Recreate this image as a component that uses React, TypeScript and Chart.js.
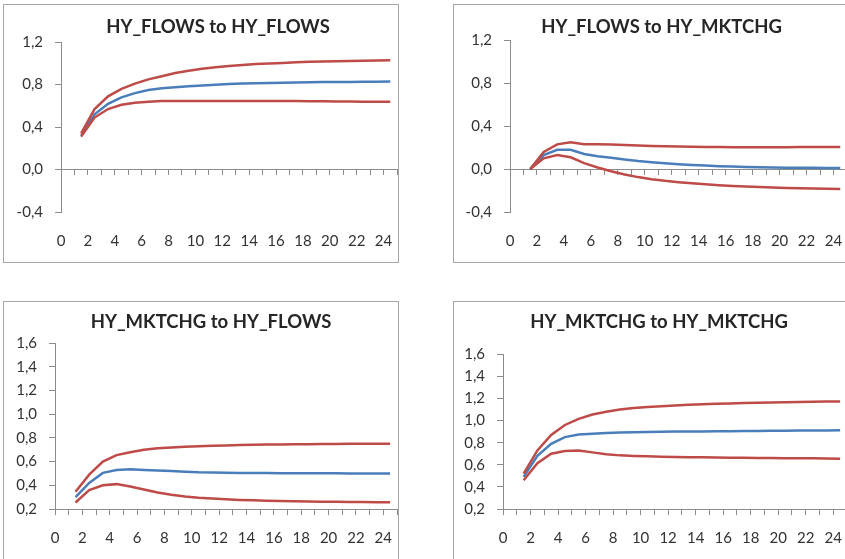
import React, { useEffect, useRef } from 'react';
import { Chart, registerables } from 'chart.js';

Chart.register(...registerables);

// Horizon (periods) at which responses are plotted
const horizon = [1.5, 2.5, 3.5, 4.5, 5.5, 6.5, 7.5, 8.5, 9.5, 10.5, 11.5, 12.5, 13.5, 14.5, 15.5, 16.5, 17.5, 18.5, 19.5, 20.5, 21.5, 22.5, 23.5, 24.5];

const xTickLabels = ['0', '2', '4', '6', '8', '10', '12', '14', '16', '18', '20', '22', '24'];

// HY_FLOWS to HY_FLOWS
const ff_resp = [0.32, 0.52, 0.62, 0.68, 0.72, 0.75, 0.765, 0.775, 0.785, 0.792, 0.8, 0.805, 0.81, 0.813, 0.816, 0.818, 0.82, 0.822, 0.824, 0.825, 0.826, 0.827, 0.828, 0.83];
const ff_upper = [0.34, 0.57, 0.69, 0.76, 0.81, 0.85, 0.88, 0.91, 0.93, 0.95, 0.965, 0.975, 0.985, 0.995, 1.0, 1.005, 1.01, 1.015, 1.018, 1.02, 1.023, 1.025, 1.027, 1.03];
const ff_lower = [0.31, 0.49, 0.57, 0.61, 0.63, 0.64, 0.645, 0.645, 0.645, 0.645, 0.645, 0.645, 0.645, 0.645, 0.645, 0.645, 0.645, 0.644, 0.643, 0.642, 0.641, 0.64, 0.64, 0.64];

// HY_FLOWS to HY_MKTCHG
const fm_resp = [0, 0.13, 0.18, 0.18, 0.14, 0.12, 0.105, 0.09, 0.075, 0.063, 0.053, 0.045, 0.038, 0.032, 0.027, 0.023, 0.02, 0.017, 0.015, 0.013, 0.012, 0.011, 0.01, 0.01];
const fm_upper = [0, 0.16, 0.23, 0.25, 0.23, 0.23, 0.228, 0.225, 0.22, 0.215, 0.212, 0.21, 0.208, 0.206, 0.205, 0.204, 0.203, 0.203, 0.203, 0.204, 0.205, 0.205, 0.205, 0.205];
const fm_lower = [0, 0.1, 0.13, 0.11, 0.055, 0.015, -0.02, -0.05, -0.075, -0.095, -0.11, -0.122, -0.133, -0.142, -0.15, -0.157, -0.163, -0.168, -0.172, -0.176, -0.179, -0.182, -0.184, -0.186];

// HY_MKTCHG to HY_FLOWS
const mf_resp = [0.3, 0.42, 0.505, 0.53, 0.535, 0.53, 0.525, 0.52, 0.515, 0.51, 0.508, 0.506, 0.505, 0.504, 0.503, 0.502, 0.502, 0.501, 0.501, 0.501, 0.5, 0.5, 0.5, 0.5];
const mf_upper = [0.345, 0.49, 0.6, 0.655, 0.68, 0.7, 0.712, 0.72, 0.725, 0.73, 0.734, 0.737, 0.74, 0.742, 0.744, 0.745, 0.746, 0.747, 0.748, 0.749, 0.75, 0.75, 0.75, 0.75];
const mf_lower = [0.255, 0.36, 0.4, 0.41, 0.39, 0.365, 0.34, 0.32, 0.305, 0.295, 0.288, 0.282, 0.277, 0.273, 0.27, 0.267, 0.265, 0.263, 0.262, 0.261, 0.26, 0.259, 0.258, 0.257];

// HY_MKTCHG to HY_MKTCHG
const mm_resp = [0.49, 0.68, 0.79, 0.85, 0.873, 0.88, 0.888, 0.892, 0.895, 0.897, 0.899, 0.9, 0.901, 0.902, 0.903, 0.904, 0.905, 0.906, 0.907, 0.908, 0.909, 0.91, 0.911, 0.912];
const mm_upper = [0.52, 0.73, 0.87, 0.96, 1.015, 1.055, 1.08, 1.1, 1.113, 1.123, 1.13, 1.137, 1.142, 1.147, 1.151, 1.155, 1.158, 1.161, 1.164, 1.166, 1.168, 1.17, 1.172, 1.173];
const mm_lower = [0.46, 0.615, 0.7, 0.725, 0.73, 0.712, 0.695, 0.685, 0.68, 0.676, 0.673, 0.671, 0.669, 0.667, 0.665, 0.664, 0.663, 0.662, 0.661, 0.66, 0.659, 0.658, 0.657, 0.655];

const BLUE = '#4a7ebb';
const RED = '#be4b48';
const AXIS = '#8c8c8c';
const TEXT = '#333333';
const TITLE = '#262626';
const FONT = 'Lato, "Open Sans", sans-serif';

type PanelCfg = {
  title: string;
  resp: number[];
  upper: number[];
  lower: number[];
  yMin: number;
  yMax: number;
  yStep: number;
  cross: number;
  left: number;
  top: number;
  titleTop: number;
  titleBottom: number;
  plotLeft: number;
  titleShift: number;
};

const panels: PanelCfg[] = [
  { title: 'HY_FLOWS to HY_FLOWS', resp: ff_resp, upper: ff_upper, lower: ff_lower, yMin: -0.4, yMax: 1.2, yStep: 0.4, cross: 0, left: 3, top: 4, titleTop: 11, titleBottom: 4, plotLeft: 57, titleShift: 17.5 },
  { title: 'HY_FLOWS to HY_MKTCHG', resp: fm_resp, upper: fm_upper, lower: fm_lower, yMin: -0.4, yMax: 1.2, yStep: 0.4, cross: 0, left: 453, top: 4, titleTop: 11, titleBottom: 2, plotLeft: 56, titleShift: 11 },
  { title: 'HY_MKTCHG to HY_FLOWS', resp: mf_resp, upper: mf_upper, lower: mf_lower, yMin: 0.2, yMax: 1.6, yStep: 0.2, cross: 0.2, left: 3, top: 301, titleTop: 9, titleBottom: 10, plotLeft: 51, titleShift: 10.5 },
  { title: 'HY_MKTCHG to HY_MKTCHG', resp: mm_resp, upper: mm_upper, lower: mm_lower, yMin: 0.2, yMax: 1.6, yStep: 0.2, cross: 0.2, left: 453, top: 301, titleTop: 9, titleBottom: 21, plotLeft: 49, titleShift: 8.5 },
];

const W = 394;
const H = 257;

function fmt(v: number): string {
  const r = Math.round(v * 10) / 10;
  const s = (Math.abs(r) < 1e-9 ? 0 : r).toFixed(1);
  return s.replace('.', ',');
}

function Panel({ cfg }: { cfg: PanelCfg }) {
  const ref = useRef<HTMLCanvasElement>(null);
  useEffect(() => {
    const ds = (vals: number[], color: string) => ({
      data: horizon.map((x, i) => ({ x, y: vals[i] })),
      borderColor: color,
      backgroundColor: color,
      borderWidth: 2.5,
      pointRadius: 0,
      tension: 0,
      xAxisID: 'x',
      yAxisID: 'y',
    });
    const shiftTitle = {
      id: 'shiftTitle',
      afterLayout(chart: any) {
        const t = chart.titleBlock;
        if (t) {
          t.left += cfg.titleShift;
          t.right += cfg.titleShift;
        }
      },
    };
    const chart = new Chart(ref.current as HTMLCanvasElement, {
      type: 'line',
      data: {
        datasets: [ds(cfg.upper, RED), ds(cfg.lower, RED), ds(cfg.resp, BLUE)],
      },
      plugins: [shiftTitle],
      options: {
        animation: false,
        responsive: false,
        layout: { padding: { left: 0, right: 1, top: 0, bottom: 10 } },
        plugins: {
          legend: { display: false },
          tooltip: { enabled: false },
          title: {
            display: true,
            text: cfg.title,
            color: TITLE,
            font: { family: FONT, size: 18.5, weight: 'bold' },
            padding: { top: cfg.titleTop, bottom: cfg.titleBottom },
          },
        },
        scales: {
          x: {
            type: 'linear',
            min: 0,
            max: 25,
            position: { y: cfg.cross } as any,
            ticks: { display: false, stepSize: 1 },
            grid: { drawOnChartArea: false, tickLength: 5, color: AXIS },
            border: { color: AXIS, width: 1 },
          },
          x2: {
            type: 'linear',
            min: 0,
            max: 25,
            position: 'bottom',
            afterBuildTicks: (scale: any) => {
              scale.ticks = xTickLabels.map((l) => ({ value: Number(l) }));
            },
            ticks: {
              autoSkip: false,
              maxRotation: 0,
              padding: 2,
              color: TEXT,
              font: { family: FONT, size: 15 },
            },
            grid: { display: false, drawTicks: true, tickLength: 18 },
            border: { display: false },
          },
          y: {
            type: 'linear',
            min: cfg.yMin,
            max: cfg.yMax,
            afterFit: (scale: any) => {
              scale.width = cfg.plotLeft;
            },
            ticks: {
              stepSize: cfg.yStep,
              padding: 12,
              color: TEXT,
              font: { family: FONT, size: 15 },
              callback: (v: any) => fmt(Number(v)),
            },
            grid: { drawOnChartArea: false, tickLength: 6, color: AXIS },
            border: { color: AXIS, width: 1 },
          },
        },
      },
    });
    return () => chart.destroy();
  }, [cfg]);
  return (
    <div
      style={{
        position: 'absolute',
        left: cfg.left,
        top: cfg.top,
        width: W,
        height: H,
        border: '1px solid #a6a6a6',
        background: '#ffffff',
      }}
    >
      <canvas ref={ref} width={W} height={H} style={{ width: W, height: H, display: 'block' }} />
    </div>
  );
}

export default function App() {
  return (
    <div style={{ position: 'fixed', left: 0, top: 0, width: 845, height: 559, overflow: 'hidden', background: '#ffffff' }}>
      {panels.map((p) => (
        <Panel key={p.title} cfg={p} />
      ))}
    </div>
  );
}
